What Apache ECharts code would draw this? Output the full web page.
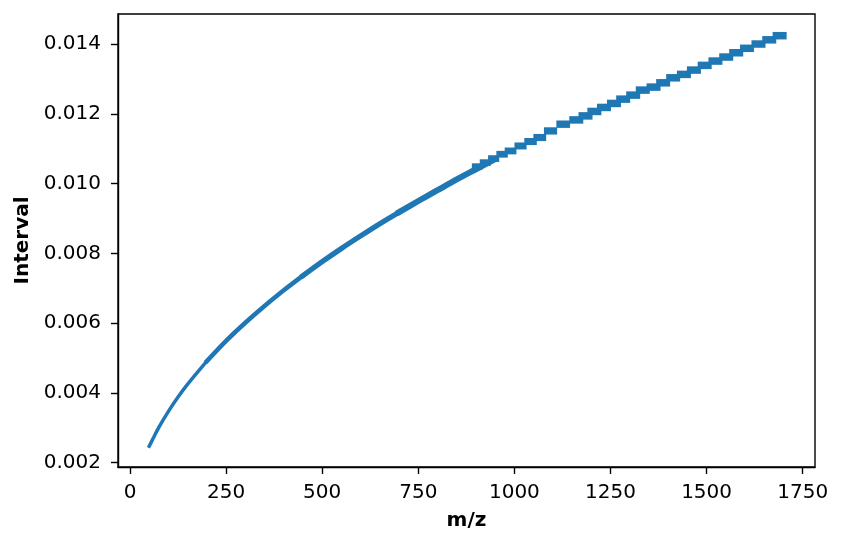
<!DOCTYPE html>
<html>
<head>
<meta charset="utf-8">
<script src="https://cdn.jsdelivr.net/npm/echarts@6/dist/echarts.min.js"></script>
<style>
html,body{margin:0;padding:0;background:#fff;}
#chart{width:844px;height:545px;}
</style>
</head>
<body>
<div id="chart"></div>
<script>
// Smooth (low m/z) part of the curve
const mzSmooth = [50, 60, 75, 100, 125, 150, 200, 250, 300, 350, 400, 450, 500, 550, 600, 650, 700, 750, 800, 850, 900, 950];
const intervalSmooth = [0.00247, 0.00269, 0.00301, 0.00347, 0.00388, 0.00425, 0.00491, 0.00549, 0.00601, 0.00649, 0.00694, 0.00736, 0.00776, 0.00814, 0.00850, 0.00885, 0.00918, 0.00950, 0.00981, 0.01012, 0.01041, 0.01070];

// Stepped (high m/z) part: centre of each visible step
const mzSteps = [903, 924, 946, 968, 990, 1016, 1042, 1066, 1094, 1127, 1161, 1185, 1208, 1233, 1259, 1283, 1309, 1334, 1362, 1387, 1413, 1441, 1467, 1495, 1523, 1551, 1577, 1605, 1635, 1663, 1690];
const intervalSteps = [0.010487, 0.010601, 0.010716, 0.010840, 0.010935, 0.011078, 0.011205, 0.011320, 0.011509, 0.011702, 0.011825, 0.011940, 0.012067, 0.012182, 0.012297, 0.012420, 0.012535, 0.012679, 0.012765, 0.012888, 0.013032, 0.013130, 0.013253, 0.013388, 0.013512, 0.013627, 0.013750, 0.013877, 0.014000, 0.014121, 0.014239];

const xTicks = [0, 250, 500, 750, 1000, 1250, 1500, 1750];
const yTicks = [0.002, 0.004, 0.006, 0.008, 0.010, 0.012, 0.014];

const BLUE = '#1f77b4';
const FONT = 'DejaVu Sans';

const smoothPts = mzSmooth.map((x, i) => [x, intervalSmooth[i]]);
const stepPts = mzSteps.map((x, i) => [x, intervalSteps[i]]);

function segment(lo, hi, width) {
  return {
    type: 'line',
    data: smoothPts.filter(p => p[0] >= lo && p[0] <= hi),
    smooth: 0.3,
    showSymbol: false,
    symbol: 'none',
    lineStyle: { color: BLUE, width: width, cap: 'square' },
    silent: true,
    animation: false,
    z: 2
  };
}

const chart = echarts.init(document.getElementById('chart'), null, { renderer: 'canvas' });
chart.setOption({
  animation: false,
  backgroundColor: '#ffffff',
  grid: {
    left: 118, right: 29, top: 14, bottom: 78,
    outerBoundsMode: 'none',
    containLabel: false,
    show: true, borderColor: '#000', borderWidth: 1.4, backgroundColor: 'transparent'
  },
  xAxis: {
    type: 'value',
    min: -31.2, max: 1782,
    name: 'm/z',
    nameLocation: 'middle',
    nameGap: 44,
    nameTextStyle: { fontFamily: FONT, fontSize: 20, fontWeight: 'bold', color: '#000' },
    axisLine: { show: true, onZero: false, lineStyle: { color: '#000', width: 1.4 } },
    splitLine: { show: false },
    axisTick: { show: true, inside: false, customValues: xTicks, length: 7, lineStyle: { color: '#000', width: 1.4 } },
    axisLabel: {
      customValues: xTicks, margin: 16, fontFamily: FONT, fontSize: 20, color: '#000',
      formatter: v => String(Math.round(v))
    }
  },
  yAxis: {
    type: 'value',
    min: 0.001874, max: 0.014861,
    name: 'Interval',
    nameLocation: 'middle',
    nameRotate: 90,
    nameGap: 78,
    nameTextStyle: { fontFamily: FONT, fontSize: 20, fontWeight: 'bold', color: '#000' },
    axisLine: { show: true, onZero: false, lineStyle: { color: '#000', width: 1.4 } },
    splitLine: { show: false },
    axisTick: { show: true, inside: false, customValues: yTicks, length: 7, lineStyle: { color: '#000', width: 1.4 } },
    axisLabel: {
      customValues: yTicks, margin: 17, fontFamily: FONT, fontSize: 20, color: '#000',
      formatter: v => Number(v).toFixed(3)
    }
  },
  series: [
    segment(50, 200, 3.5),
    segment(200, 450, 4.5),
    segment(450, 700, 5.3),
    segment(700, 950, 6),
    {
      type: 'scatter',
      data: stepPts,
      symbol: 'rect',
      symbolSize: function (val) {
        const t = Math.max(0, Math.min(1, (val[0] - 900) / 250));
        return [10.5 + 3.5 * t, 6.5 + 1 * t];
      },
      itemStyle: { color: BLUE, opacity: 1 },
      silent: true,
      animation: false,
      z: 3
    }
  ]
});
</script>
</body>
</html>
